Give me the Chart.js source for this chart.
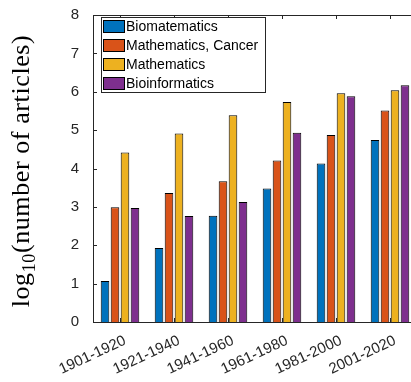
<!DOCTYPE html>
<html>
<head>
<meta charset="utf-8">
<script src="https://cdn.jsdelivr.net/npm/chart.js@4"></script>
<style>
body{margin:0;overflow:hidden;background:#fff}
</style>
</head>
<body>
<canvas id="c" width="418" height="382"></canvas>
<script>
var periods = ['1901-1920','1921-1940','1941-1960','1961-1980','1981-2000','2001-2020'];
var biomatematics = [1.07, 1.93, 2.77, 3.48, 4.13, 4.74];
var mathCancer = [2.99, 3.36, 3.67, 4.21, 4.87, 5.51];
var mathematics = [4.42, 4.91, 5.39, 5.73, 5.96, 6.04];
var bioinformatics = [2.97, 2.76, 3.13, 4.93, 5.88, 6.17];
var seriesNames = ['Biomatematics','Mathematics, Cancer','Mathematics','Bioinformatics'];
var seriesColors = ['#0072BD','#D95319','#EDB120','#7E2F8E'];
var yTicks = [0,1,2,3,4,5,6,7,8];

var sans = '"Liberation Sans", Arial, sans-serif';
var ink = '#262626';

var allData = [biomatematics, mathCancer, mathematics, bioinformatics];
var datasets = [];
for (var i = 0; i < allData.length; i++) {
    datasets.push({
        label: seriesNames[i],
        data: allData[i],
        backgroundColor: seriesColors[i],
        borderColor: '#000',
        borderWidth: 1,
        categoryPercentage: 0.74,
        barPercentage: 0.86
    });
}

// axes box with inward ticks, like matlab
var boxPlugin = {
    id: 'box',
    afterDraw: function(chart){
        var ctx = chart.ctx, a = chart.chartArea;
        var xs = chart.scales.x, ys = chart.scales.y;
        ctx.save();
        ctx.strokeStyle = ink;
        ctx.lineWidth = 1;
        ctx.beginPath();
        ctx.rect(Math.round(a.left)+0.5, Math.round(a.top)+0.5, Math.round(a.right-a.left), Math.round(a.bottom-a.top));
        ctx.stroke();
        ctx.beginPath();
        for (var i = 0; i < periods.length; i++) {
            var x = Math.round(xs.getPixelForValue(i)) + 0.5;
            ctx.moveTo(x, a.bottom); ctx.lineTo(x, a.bottom - 4);
            ctx.moveTo(x, a.top); ctx.lineTo(x, a.top + 4);
        }
        for (var j = 0; j < yTicks.length; j++) {
            var y = Math.round(ys.getPixelForValue(yTicks[j])) + 0.5;
            ctx.moveTo(a.left, y); ctx.lineTo(a.left + 4, y);
        }
        ctx.stroke();

        // rotated x labels (matlab puts the right end a bit past the tick)
        ctx.fillStyle = ink;
        ctx.font = '15px ' + sans;
        ctx.textAlign = 'right';
        ctx.textBaseline = 'middle';
        for (var m = 0; m < periods.length; m++) {
            ctx.save();
            ctx.translate(xs.getPixelForValue(m) + 5, a.bottom + 18);
            ctx.rotate(-25 * Math.PI / 180);
            ctx.fillText(periods[m], 0, 0);
            ctx.restore();
        }

        // legend
        var lx = 101, ly = 17, lw = 164, lh = 75;
        ctx.fillStyle = '#fff';
        ctx.fillRect(lx, ly, lw, lh);
        ctx.strokeStyle = ink;
        ctx.strokeRect(lx + 0.5, ly + 0.5, lw, lh);
        ctx.font = '14px ' + sans;
        ctx.textAlign = 'left';
        ctx.textBaseline = 'middle';
        chart.data.datasets.forEach(function(ds, k){
            var sy = 20 + k * 19;
            ctx.fillStyle = ds.backgroundColor;
            ctx.fillRect(103, sy, 22, 13);
            ctx.strokeStyle = '#000';
            ctx.strokeRect(103.5, sy + 0.5, 21, 12);
            ctx.fillStyle = '#000';
            ctx.fillText(ds.label, 126, sy + 7);
        });

        // y label with subscript
        ctx.translate(29, 171);
        ctx.rotate(-Math.PI/2);
        ctx.fillStyle = '#000';
        ctx.textBaseline = 'alphabetic';
        ctx.letterSpacing = '0.6px';
        var f1 = '26px "Liberation Serif", serif', f2 = '18px "Liberation Serif", serif';
        ctx.font = f1;
        var w1 = ctx.measureText('log').width;
        var w3 = ctx.measureText('(number of articles)').width;
        ctx.font = f2;
        var w2 = ctx.measureText('10').width;
        var x0 = -(w1 + w2 + w3) / 2;
        ctx.font = f1;
        ctx.fillText('log', x0, 0);
        ctx.font = f2;
        ctx.fillText('10', x0 + w1, 6);
        ctx.font = f1;
        ctx.fillText('(number of articles)', x0 + w1 + w2, 0);
        ctx.restore();
    }
};

new Chart(document.getElementById('c'), {
    type: 'bar',
    data: { labels: periods, datasets: datasets },
    options: {
        responsive: false,
        animation: false,
        layout: { padding: { top: 12, right: 1, left: 0, bottom: 0 } },
        plugins: { legend: { display: false }, tooltip: { enabled: false } },
        scales: {
            x: {
                grid: { display: false },
                border: { display: false },
                ticks: { display: false },
                afterFit: function(s){ s.height = 60; }
            },
            y: {
                min: 0, max: 8,
                grid: { display: false },
                border: { display: false },
                afterBuildTicks: function(s){ s.ticks = yTicks.map(function(v){ return {value: v}; }); },
                ticks: { color: ink, font: { family: sans, size: 15 }, padding: 6 },
                afterFit: function(s){ s.width = 93; }
            }
        }
    },
    plugins: [boxPlugin]
});
</script>
</body>
</html>
